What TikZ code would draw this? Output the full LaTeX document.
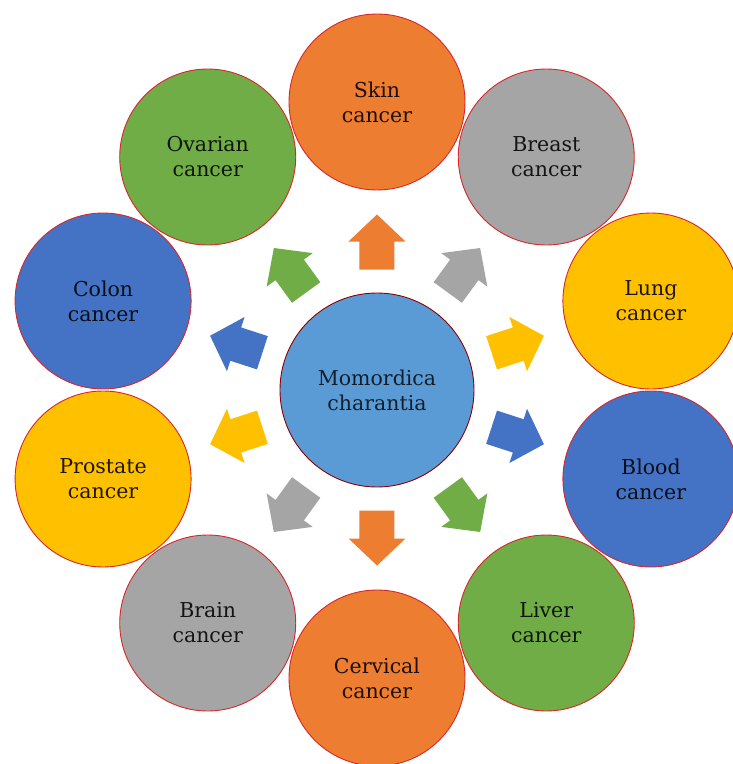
\documentclass[tikz,border=0pt]{standalone}
\usepackage{fontspec}
\setmainfont{DejaVu Serif}
\usepackage{tikz}
\usetikzlibrary{positioning}
\definecolor{orng}{HTML}{ED7D31}
\definecolor{gry}{HTML}{A5A5A5}
\definecolor{ylw}{HTML}{FFC000}
\definecolor{blu}{HTML}{4472C4}
\definecolor{grn}{HTML}{70AD47}
\definecolor{ctr}{HTML}{5B9BD5}
\definecolor{rim}{HTML}{D9262B}
\tikzset{
  blockarr/.pic={\path[pic actions] (-27.5,-17.5) -- (0.5,-17.5) -- (0.5,-28.5)
    -- (27.5,0) -- (0.5,28.5) -- (0.5,17.5) -- (-27.5,17.5) -- cycle;}}
\begin{document}
\begin{tikzpicture}[x=1pt, y=1pt,
  cancer/.style={circle, draw=rim, line width=0.9pt, minimum size=176pt, inner sep=0pt,
    align=center, font=\fontsize{20.5}{25}\selectfont, text=#1!12!black, fill=#1},
  core/.style={circle, draw=red!55!black, line width=0.9pt, minimum size=194pt, inner sep=0pt,
    align=center, font=\fontsize{20.5}{25}\selectfont, text=ctr!20!black, fill=ctr}]
\useasboundingbox (-377,-374) rectangle (355,390);
% centre
\node[core] (mc) at (0,0) {Momordica\\charantia};
% ring of cancers
\node[cancer=orng] (skin) at (90:288) {Skin\\cancer};
\node[cancer=gry] (breast) at (54:288) {Breast\\cancer};
\node[cancer=ylw] (lung) at (18:288) {Lung\\cancer};
\node[cancer=blu] (blood) at (-18:288) {Blood\\cancer};
\node[cancer=grn] (liver) at (-54:288) {Liver\\cancer};
\node[cancer=orng] (cervical) at (-90:288) {Cervical\\cancer};
\node[cancer=gry] (brain) at (-126:288) {Brain\\cancer};
\node[cancer=ylw] (prostate) at (-162:288) {Prostate\\cancer};
\node[cancer=blu] (colon) at (162:288) {Colon\\cancer};
\node[cancer=grn] (ovarian) at (126:288) {Ovarian\\cancer};
% block arrows
\pic[fill=orng, rotate=90] at (90:148) {blockarr};
\pic[fill=gry, rotate=54] at (54:148) {blockarr};
\pic[fill=ylw, rotate=18] at (18:148) {blockarr};
\pic[fill=blu, rotate=-18] at (-18:148) {blockarr};
\pic[fill=grn, rotate=-54] at (-54:148) {blockarr};
\pic[fill=orng, rotate=-90] at (-90:148) {blockarr};
\pic[fill=gry, rotate=-126] at (-126:148) {blockarr};
\pic[fill=ylw, rotate=-162] at (-162:148) {blockarr};
\pic[fill=blu, rotate=162] at (162:148) {blockarr};
\pic[fill=grn, rotate=126] at (126:148) {blockarr};
\end{tikzpicture}
\end{document}
